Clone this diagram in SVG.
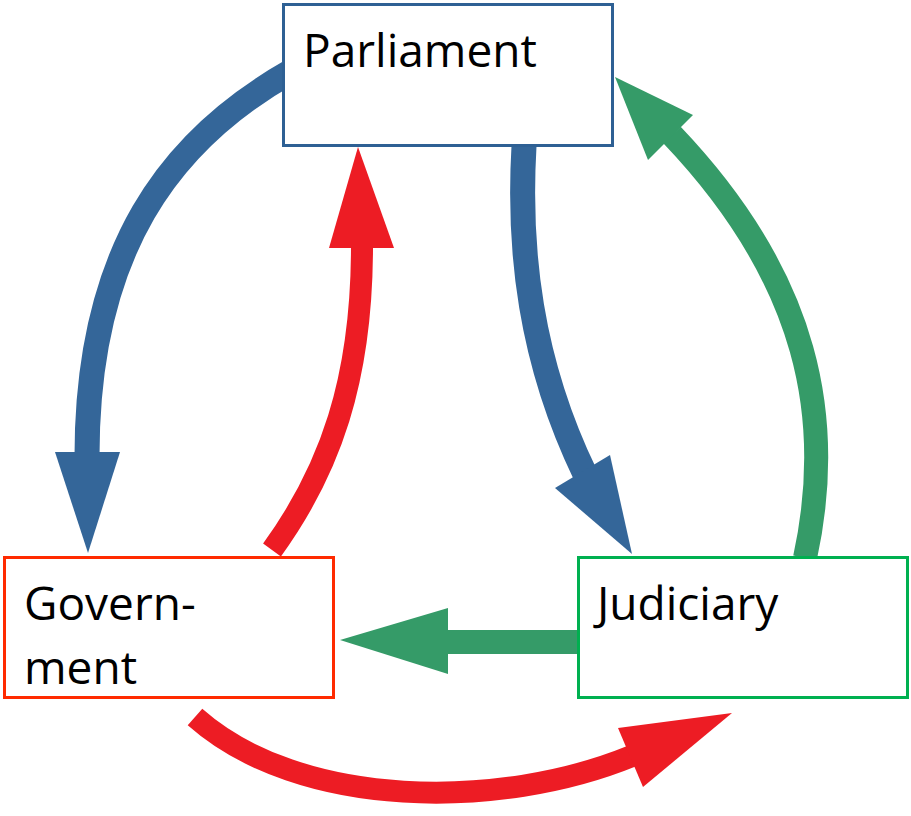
<svg xmlns="http://www.w3.org/2000/svg" width="911" height="816" viewBox="0 0 911 816">
<style>
.box{fill:#fff;stroke-width:3}
.lbl{font-family:"Open Sans","Noto Sans",sans-serif;font-size:46px;fill:#000}
.blue{stroke:#346699;fill:none;stroke-width:25}
.red{stroke:#ED1C24;fill:none;stroke-width:22}
.green{stroke:#359B68;fill:none;stroke-width:24}
.hb{fill:#346699}.hr{fill:#ED1C24}.hg{fill:#359B68}
</style>
<rect width="911" height="816" fill="#fff"/>
<g id="connectors">
<path class="blue" d="M 290 72 C 170 140, 87 250, 87 456"/>
<polygon class="hb" points="55,452 120,452 88,553"/>
<path class="red" d="M 272 550 C 330 470, 362 380, 362 246"/>
<polygon class="hr" points="329,248 394,248 358,147"/>
<path class="blue" d="M 524 146 C 518 250, 530 360, 585 474"/>
<polygon class="hb" points="555,488 610,455 632,554"/>
<path class="green" d="M 805 558 C 835 420, 810 280, 672 135"/>
<polygon class="hg" points="648,160 693,115 615,77"/>
<path class="green" d="M 580 642 L 446 642"/>
<polygon class="hg" points="448,608 448,674 340,640"/>
<path class="red" d="M 195 717 C 300 810, 500 810, 632 756"/>
<polygon class="hr" points="618,728 643,787 732,713"/>
</g>
<g id="parliament">
<rect class="box" x="283.5" y="4.5" width="329" height="141" stroke="#2E6094"/>
<text class="lbl" x="303" y="67">Parliament</text>
</g>
<g id="government">
<rect class="box" x="4.5" y="557.5" width="329" height="140" stroke="#FF2A00"/>
<text class="lbl" x="24" y="620">Govern-</text>
<text class="lbl" x="24" y="684">ment</text>
</g>
<g id="judiciary">
<rect class="box" x="578.5" y="557.5" width="329" height="140" stroke="#00B050"/>
<text class="lbl" x="597" y="620">Judiciary</text>
</g>
</svg>
